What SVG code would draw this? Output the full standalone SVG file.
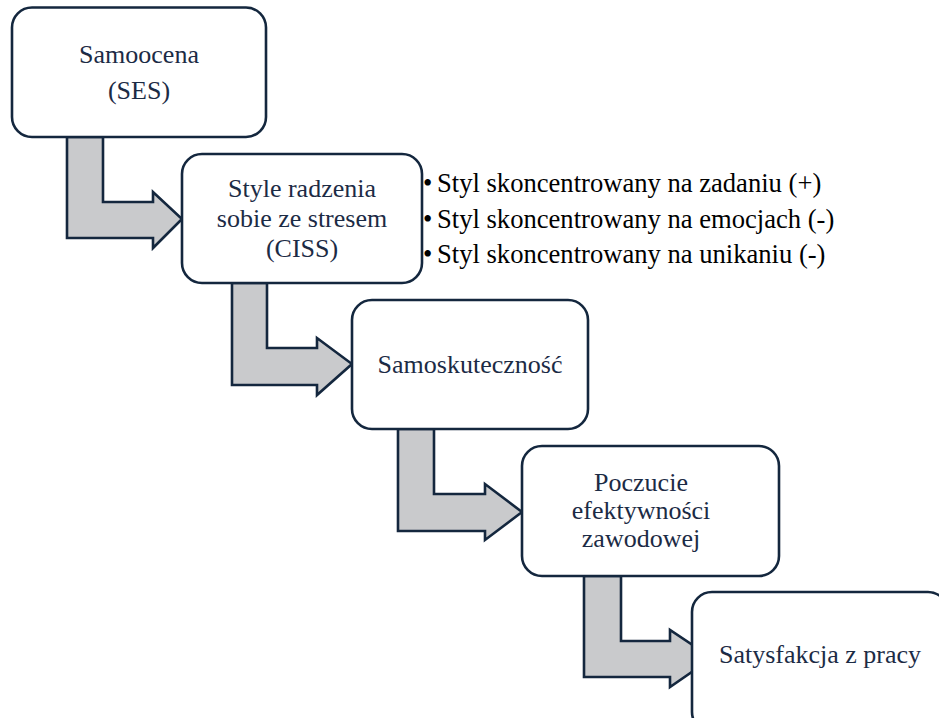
<svg xmlns="http://www.w3.org/2000/svg" width="939" height="718" viewBox="0 0 939 718">
<style>
.box{fill:#ffffff;stroke:#14273e;stroke-width:2.6}
.arr{fill:#c9cacc;stroke:#14273e;stroke-width:2.6;stroke-linejoin:miter}
.t{font-family:'Liberation Serif','Times New Roman',serif;font-size:26px;fill:#1c2b45;text-anchor:middle}
.b{font-family:'Liberation Serif','Times New Roman',serif;font-size:26.6px;fill:#000000}
</style>
<rect width="939" height="718" fill="#ffffff"/>
<g id="connectors">
<polygon class="arr" points="67,137 103,137 103,202 153,202 153,192 182,219 153,248 153,238 67,238"/>
<polygon class="arr" points="232,283 267,283 267,348 317,348 317,338 352,364 317,395 317,385 232,385"/>
<polygon class="arr" points="398,429 434,429 434,494 485,494 485,484 522,512 485,540 485,531 398,531"/>
<polygon class="arr" points="584,576 621,576 621,641 670,641 670,630 712,658 670,687 670,677 584,677"/>
</g>
<g id="node-samoocena">
<rect class="box" x="12" y="7.5" width="254" height="129.5" rx="20"/>
<text class="t" x="139" y="63">Samoocena</text>
<text class="t" x="139" y="99">(SES)</text>
</g>
<g id="node-style">
<rect class="box" x="182" y="154" width="240" height="129" rx="20"/>
<text class="t" x="302" y="197">Style radzenia</text>
<text class="t" x="302" y="227">sobie ze stresem</text>
<text class="t" x="302" y="257">(CISS)</text>
</g>
<g id="bullets">
<text class="b" x="423" y="192">•</text><text class="b" x="437" y="192">Styl skoncentrowany na zadaniu (+)</text>
<text class="b" x="423" y="228">•</text><text class="b" x="437" y="228">Styl skoncentrowany na emocjach (-)</text>
<text class="b" x="423" y="263">•</text><text class="b" x="437" y="263">Styl skoncentrowany na unikaniu (-)</text>
</g>
<g id="node-samoskutecznosc">
<rect class="box" x="352" y="300" width="236" height="129" rx="20"/>
<text class="t" x="470" y="373">Samoskuteczność</text>
</g>
<g id="node-poczucie">
<rect class="box" x="522" y="446" width="257" height="130" rx="20"/>
<text class="t" x="641" y="491">Poczucie</text>
<text class="t" x="641" y="519">efektywności</text>
<text class="t" x="641" y="547">zawodowej</text>
</g>
<g id="node-satysfakcja">
<rect class="box" x="692" y="592" width="256" height="140" rx="20"/>
<text class="t" x="820" y="663">Satysfakcja z pracy</text>
</g>
</svg>
